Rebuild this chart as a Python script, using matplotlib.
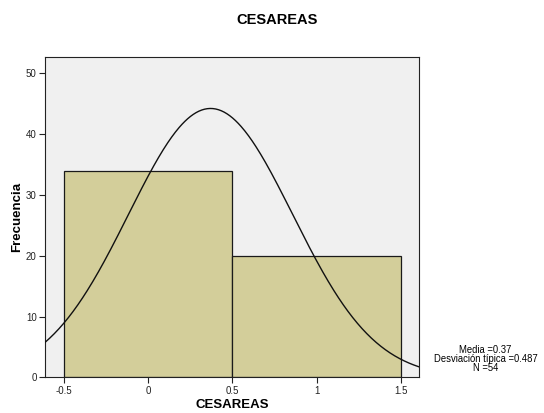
import numpy as np
import matplotlib
matplotlib.use("Agg")
import matplotlib.pyplot as plt

plt.rcParams['font.family'] = ['Liberation Sans', 'DejaVu Sans']

bin_edges = [-0.5, 0.5, 1.5]
counts = [34, 20]
mean = 0.37
sd = 0.487
n = 54
xticks = [-0.5, 0, 0.5, 1, 1.5]
xtick_labels = ["-0.5", "0", "0.5", "1", "1.5"]
yticks = [0, 10, 20, 30, 40, 50]

fig = plt.figure(figsize=(5.44, 4.13), dpi=100)
ax = fig.add_axes([0.0827, 0.086, 0.688, 0.776])
ax.set_facecolor('#f0f0f0')

widths = np.diff(bin_edges)
ax.bar(bin_edges[:-1], counts, width=widths, align='edge',
       color='#d3ce9a', edgecolor='#1a1a1a', linewidth=0.9, zorder=2)

xlim = (-0.613, 1.609)
xs = np.linspace(xlim[0], xlim[1], 400)
binw = widths[0]
ys = n * binw / (sd * np.sqrt(2 * np.pi)) * np.exp(-0.5 * ((xs - mean) / sd) ** 2)
ax.plot(xs, ys, color='#111111', linewidth=1.0, zorder=3)

ax.set_xlim(*xlim)
ax.set_ylim(0, 52.7)
ax.set_xticks(xticks)
ax.set_xticklabels(xtick_labels)
ax.set_yticks(yticks)
ax.tick_params(axis='both', direction='out', length=4, width=0.8,
               labelsize=7, colors='#222222', pad=2)
for s in ax.spines.values():
    s.set_color('#222222')
    s.set_linewidth(0.8)

ax.set_xlabel('CESAREAS', fontsize=9.5, fontweight='bold', labelpad=2)
ax.set_ylabel('Frecuencia', fontsize=9.5, fontweight='bold', labelpad=2)
fig.text(0.510, 0.952, 'CESAREAS', ha='center', va='center',
         fontsize=10.5, fontweight='bold')

fig.text(0.8925, 0.131, 'Media =0.37\nDesviación típica =0.487\nN =54',
         ha='center', va='center', fontsize=6.85, linespacing=0.92)

fig.savefig('out.png', dpi=100)
